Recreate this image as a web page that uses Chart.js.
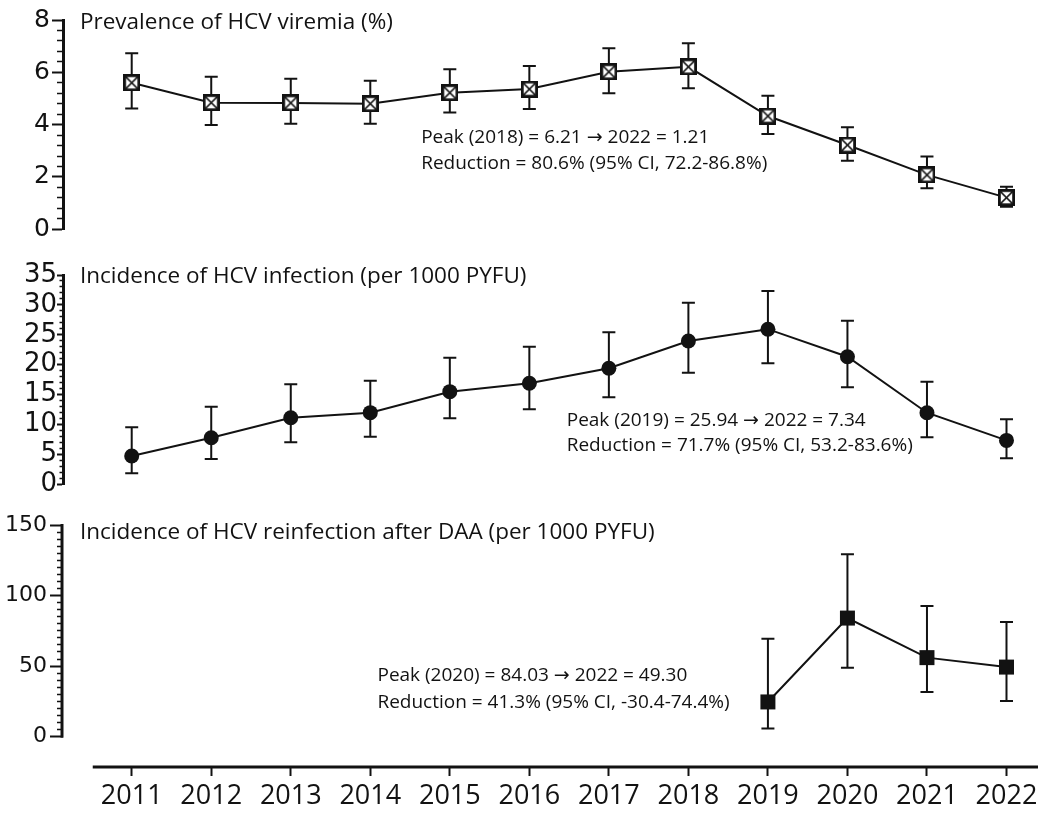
<!DOCTYPE html>
<html>
<head>
<meta charset="utf-8">
<title>HCV trends 2011–2022</title>
<script src="https://cdn.jsdelivr.net/npm/chart.js@4.4.1/dist/chart.umd.min.js"></script>
<style>
  html, body { margin: 0; padding: 0; background: #fff; }
  #wrap { position: relative; width: 1038px; height: 816px; overflow: hidden; }
  #wrap canvas { position: absolute; left: 0; }
</style>
</head>
<body>
<div id="wrap">
  <canvas id="prev" width="1038" height="246" style="top:0px"></canvas>
  <canvas id="inc" width="1038" height="246" style="top:255px"></canvas>
  <canvas id="reinf" width="1038" height="311" style="top:505px"></canvas>
</div>
<script>
// ---- data -------------------------------------------------------------
const years = [2011, 2012, 2013, 2014, 2015, 2016, 2017, 2018, 2019, 2020, 2021, 2022];

// Prevalence of HCV viremia (%), with 95% CI
const prevalence = [5.60, 4.84, 4.83, 4.80, 5.22, 5.36, 6.02, 6.21, 4.33, 3.22, 2.08, 1.21];
const prevLow    = [4.62, 3.99, 4.03, 4.03, 4.46, 4.60, 5.20, 5.39, 3.64, 2.62, 1.57, 0.86];
const prevHigh   = [6.73, 5.83, 5.75, 5.68, 6.12, 6.24, 6.92, 7.11, 5.10, 3.90, 2.78, 1.63];

// Incidence of HCV infection (per 1000 PYFU), with 95% CI
const incidence = [4.73, 7.79, 11.14, 11.98, 15.49, 16.89, 19.40, 23.96, 25.94, 21.34, 11.97, 7.34];
const incLow    = [1.84, 4.23, 7.02, 7.96, 11.04, 12.54, 14.55, 18.66, 20.23, 16.22, 7.86, 4.35];
const incHigh   = [9.53, 12.98, 16.72, 17.33, 21.17, 23.01, 25.42, 30.37, 32.32, 27.36, 17.16, 10.87];

// Incidence of HCV reinfection after DAA (per 1000 PYFU), with 95% CI
const reinfection = [null, null, null, null, null, null, null, null, 24.6, 84.03, 56.0, 49.30];
const reinfLow    = [null, null, null, null, null, null, null, null, 5.7, 48.9, 31.7, 25.3];
const reinfHigh   = [null, null, null, null, null, null, null, null, 69.4, 129.3, 92.6, 81.3];

// tick labels
const prevTicks  = [0, 2, 4, 6, 8];
const incTicks   = [0, 5, 10, 15, 20, 25, 30, 35];
const reinfTicks = [0, 50, 100, 150];

const titles = [
  'Prevalence of HCV viremia (%)',
  'Incidence of HCV infection (per 1000 PYFU)',
  'Incidence of HCV reinfection after DAA (per 1000 PYFU)'
];
const prevNotes  = ['Peak (2018) = 6.21 \u2192 2022 = 1.21', 'Reduction = 80.6% (95% CI, 72.2-86.8%)'];
const incNotes   = ['Peak (2019) = 25.94 \u2192 2022 = 7.34', 'Reduction = 71.7% (95% CI, 53.2-83.6%)'];
const reinfNotes = ['Peak (2020) = 84.03 \u2192 2022 = 49.30', 'Reduction = 41.3% (95% CI, -30.4-74.4%)'];

// ---- look -------------------------------------------------------------
const ink = '#121212';
const FONT = "'Open Sans', 'DejaVu Sans', sans-serif";
const TICK_FONT = "'DejaVu Sans', 'Open Sans', sans-serif";
Chart.defaults.font.family = FONT;
Chart.defaults.color = ink;

const X_MIN = 2010.136, X_MAX = 2022.371;   // shared horizontal range of all panels
const AXIS_W = 63;                            // width reserved for the y axes

// boxed-cross marker used in the prevalence panel
function boxedCross(size) {
  const c = document.createElement('canvas');
  c.width = c.height = size;
  const g = c.getContext('2d');
  g.fillStyle = '#fff';
  g.fillRect(0, 0, size, size);
  g.strokeStyle = ink;
  g.lineWidth = 2.8;
  g.strokeRect(1.4, 1.4, size - 2.8, size - 2.8);
  g.lineWidth = 1.7;
  g.beginPath();
  g.moveTo(2.5, 2.5); g.lineTo(size - 2.5, size - 2.5);
  g.moveTo(size - 2.5, 2.5); g.lineTo(2.5, size - 2.5);
  g.stroke();
  return c;
}

// vertical CI whiskers with caps, drawn under the markers
const errorBars = {
  id: 'errorBars',
  beforeDatasetsDraw(chart) {
    const { ctx, scales: { x, y } } = chart;
    chart.data.datasets.forEach(ds => {
      if (!ds.low) return;
      ctx.save();
      ctx.strokeStyle = ink;
      ctx.lineWidth = 2;
      ds.data.forEach((pt, i) => {
        if (pt.y == null) return;
        const px = x.getPixelForValue(pt.x);
        const top = y.getPixelForValue(ds.high[i]);
        const bot = y.getPixelForValue(ds.low[i]);
        const cap = 6.5;
        ctx.beginPath();
        ctx.moveTo(px, top); ctx.lineTo(px, bot);
        ctx.moveTo(px - cap, top); ctx.lineTo(px + cap, top);
        ctx.moveTo(px - cap, bot); ctx.lineTo(px + cap, bot);
        ctx.stroke();
      });
      ctx.restore();
    });
  }
};

// axis lines that do not span the whole chart area (bottom panel)
const axisLines = {
  id: 'axisLines',
  beforeDatasetsDraw(chart, args, opts) {
    const { ctx, chartArea, scales: { x, y } } = chart;
    ctx.save();
    ctx.strokeStyle = ink;
    ctx.lineWidth = 3;
    ctx.lineCap = 'butt';
    if (opts.yRange) {
      ctx.beginPath();
      ctx.moveTo(chartArea.left - 1, y.getPixelForValue(opts.yRange[0]) + 1);
      ctx.lineTo(chartArea.left - 1, y.getPixelForValue(opts.yRange[1]) - 1);
      ctx.stroke();
    }
    if (opts.xFrom != null) {
      ctx.beginPath();
      ctx.moveTo(x.getPixelForValue(opts.xFrom), chartArea.bottom + 1);
      ctx.lineTo(chartArea.right + 2, chartArea.bottom + 1);
      ctx.stroke();
    }
    ctx.restore();
  }
};

// panel title and the peak / reduction notes
const panelText = {
  id: 'panelText',
  afterDraw(chart, args, opts) {
    const { ctx, chartArea, scales: { x, y } } = chart;
    ctx.save();
    ctx.fillStyle = ink;
    ctx.textAlign = 'left';
    ctx.textBaseline = 'middle';
    ctx.font = `22.5px ${FONT}`;
    ctx.fillText(opts.title, chartArea.left + 17, chartArea.top + opts.titleDy);
    ctx.font = `19px ${FONT}`;
    opts.notes.forEach((line, i) => {
      ctx.fillText(line, x.getPixelForValue(opts.noteX), y.getPixelForValue(opts.noteY[i]));
    });
    ctx.restore();
  }
};

function tickValues(max, step) {
  const out = [];
  for (let i = 0; i * step <= max + 1e-9; i++) out.push(Math.round(i * step * 1e6) / 1e6);
  return out;
}

function makePanel(id, p) {
  const points = years.map((yr, i) => ({ x: yr, y: p.values[i] }));
  const majorLen = p.tickLen, minorLen = p.minorLen;
  return new Chart(document.getElementById(id), {
    type: 'line',
    data: {
      datasets: [{
        data: points,
        low: p.low,
        high: p.high,
        borderColor: ink,
        borderWidth: 2,
        tension: 0,
        clip: false,
        pointStyle: p.pointStyle,
        pointRadius: p.pointRadius,
        pointBackgroundColor: ink,
        pointBorderColor: ink,
        pointBorderWidth: 0
      }]
    },
    options: {
      responsive: false,
      animation: false,
      devicePixelRatio: 1,
      events: [],
      layout: { autoPadding: false, padding: { top: 20, bottom: p.padBottom, left: 0, right: 2 } },
      plugins: {
        legend: { display: false },
        tooltip: { enabled: false },
        panelText: { title: p.title, titleDy: p.titleDy, notes: p.notes, noteX: p.noteX, noteY: p.noteY },
        axisLines: p.axisLines || {}
      },
      scales: {
        x: {
          type: 'linear',
          min: X_MIN,
          max: X_MAX,
          display: p.showX,
          afterBuildTicks: s => { s.ticks = years.map(v => ({ value: v })); },
          afterFit: s => {
            if (!p.showX) return;
            s.height = 50; s.paddingLeft = 0; s.paddingRight = 0;
          },
          border: { display: false },
          grid: { display: true, drawOnChartArea: false, drawTicks: true, tickLength: 10, tickWidth: 2, tickColor: ink },
          ticks: { autoSkip: false, maxRotation: 0, padding: 4, font: { size: 27 }, color: ink, callback: v => String(v) }
        },
        y: {
          type: 'linear',
          min: p.yMin,
          max: p.yMax,
          afterBuildTicks: s => { s.ticks = tickValues(p.majors[p.majors.length - 1], p.minorStep).map(v => ({ value: v })); },
          afterFit: s => { s.width = AXIS_W; s.paddingTop = 0; s.paddingBottom = 0; },
          border: { display: p.yBorder, color: ink, width: 3 },
          grid: {
            display: true,
            drawOnChartArea: false,
            drawTicks: true,
            tickLength: majorLen,
            tickColor: ink,
            tickWidth: c => p.majors.includes(c.tick.value) ? 2 : 1.6,
            tickBorderDash: c => p.majors.includes(c.tick.value) ? [] : [0, majorLen - minorLen, 60]
          },
          ticks: {
            autoSkip: false,
            padding: p.labelPad,
            font: { family: TICK_FONT, size: p.tickSize },
            color: ink,
            callback: v => p.majors.includes(v) ? String(v) : ''
          }
        }
      }
    },
    plugins: [errorBars, axisLines, panelText]
  });
}

function build() {
  makePanel('prev', {
    values: prevalence, low: prevLow, high: prevHigh,
    pointStyle: boxedCross(17), pointRadius: 8,
    yMin: 0, yMax: 8, majors: prevTicks, minorStep: 0.4,
    tickLen: 11, minorLen: 6, labelPad: 2, tickSize: 25,
    padBottom: 16.7, showX: false, yBorder: true,
    title: titles[0], titleDy: 2.8,
    notes: prevNotes, noteX: 2014.64, noteY: [3.49, 2.50]
  });
  makePanel('inc', {
    values: incidence, low: incLow, high: incHigh,
    pointStyle: 'circle', pointRadius: 7.5,
    yMin: 0, yMax: 35, majors: incTicks, minorStep: 1,
    tickLen: 6, minorLen: 3.5, labelPad: 0, tickSize: 26,
    padBottom: 16.7, showX: false, yBorder: true,
    title: titles[1], titleDy: 1.7,
    notes: incNotes, noteX: 2016.47, noteY: [10.6, 6.4]
  });
  makePanel('reinf', {
    values: reinfection, low: reinfLow, high: reinfHigh,
    pointStyle: 'rect', pointRadius: 10.6,
    yMin: -20.8, yMax: 150, majors: reinfTicks, minorStep: 5,
    tickLen: 13, minorLen: 6, labelPad: 3, tickSize: 22,
    padBottom: 0, showX: true, yBorder: false,
    axisLines: { yRange: [0, 150], xFrom: 2010.51 },
    title: titles[2], titleDy: 7.5,
    notes: reinfNotes, noteX: 2014.09, noteY: [43.0, 24.2]
  });
}

if (document.fonts && document.fonts.ready) {
  document.fonts.ready.then(build);
} else {
  build();
}
</script>
</body>
</html>
